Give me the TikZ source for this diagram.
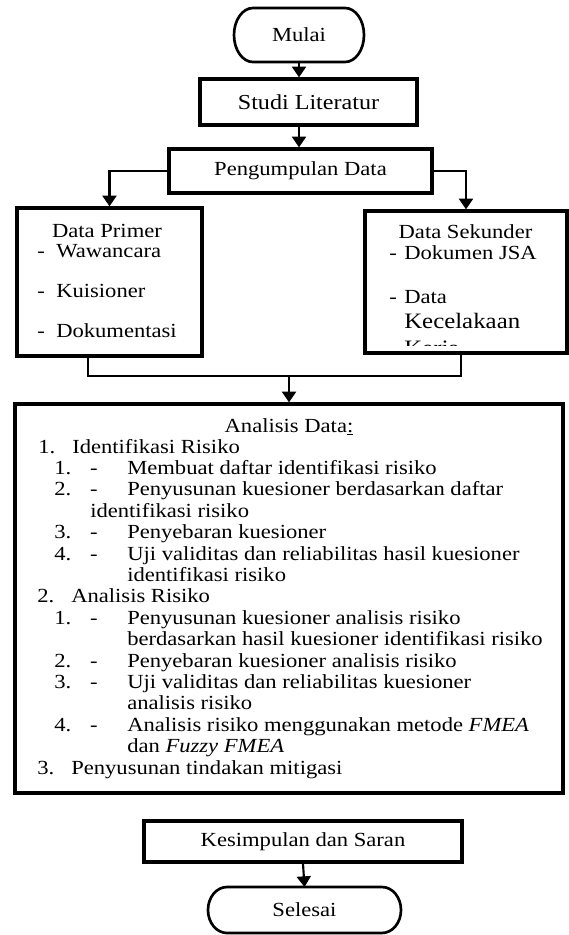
\documentclass[tikz,border=0pt]{standalone}
\usepackage{fontspec}
\setmainfont{Liberation Serif}[FakeStretch=1.13]
\usetikzlibrary{arrows.meta, positioning}

% list entries in the analysis box
\newcommand{\lvlone}[2]{\makebox[25.5pt][l]{#1}#2}
\newcommand{\lvltwo}[2]{\makebox[27pt][l]{#1}\makebox[27.75pt][l]{-}#2}
% terminator outline drawn round an empty node
\newcommand{\termshape}[2]{%
  \draw[termline] ([xshift=14.25pt]#1.north west) -- ([xshift=-14.25pt]#1.north east)
    arc[start angle=90, end angle=-90, x radius=14.25pt, y radius=#2]
    -- ([xshift=14.25pt]#1.south west)
    arc[start angle=270, end angle=90, x radius=14.25pt, y radius=#2] -- cycle;}

\begin{document}
\begin{tikzpicture}[
  x=0.75pt, y=-0.75pt,
  every node/.style={font=\fontsize{15pt}{16pt}\selectfont},
  termnode/.style={inner sep=0pt, outer sep=0pt, align=center},
  termline/.style={line width=2pt},
  procbox/.style={draw, line width=2.5pt, align=center, inner sep=0pt},
  txt/.style={inner sep=0pt, anchor=base west},
  conn/.style={line width=1.6pt},
  arr/.style={line width=1.6pt, -{Triangle[length=8pt, width=10.5pt]}}
]
  \useasboundingbox (0,0) rectangle (568,935);

  % main flow
  \node[termnode, minimum width=97.5pt, minimum height=40.5pt] (mulai) at (299,35) {Mulai};
  \termshape{mulai}{20.25pt}
  \node[procbox, font=\fontsize{16pt}{17pt}\selectfont, minimum width=162.75pt, minimum height=34.5pt] (studi) at (308.5,102) {Studi Literatur};
  \node[procbox, minimum width=197.25pt, minimum height=33pt] (peng) at (300.5,171) {Pengumpulan Data};
  \node[procbox, minimum width=138.75pt, minimum height=111pt] (primer) at (109.5,282) {};
  \node[procbox, minimum width=151.5pt, minimum height=106.5pt] (sekunder) at (466,282) {};
  \node[procbox, minimum width=411pt, minimum height=291.75pt] (analisis) at (289,598.5) {};
  \node[procbox, minimum width=238.5pt, minimum height=30.75pt] (kesimpulan) at (303,841.5) {Kesimpulan dan Saran};
  \node[termnode, minimum width=144.75pt, minimum height=34.5pt] (selesai) at (304.5,910) {Selesai};
  \termshape{selesai}{17.25pt}

  % data primer
  \node[txt, anchor=base] (primerT) at (107,237) {Data Primer};
  \node[txt] (p1) at (37,257) {\makebox[14.25pt][l]{-}Wawancara};
  \node[txt] (p2) at (37,297) {\makebox[14.25pt][l]{-}Kuisioner};
  \node[txt] (p3) at (37,337) {\makebox[14.25pt][l]{-}Dokumentasi};

  % data sekunder
  \node[txt, anchor=base] (sekunderT) at (465.5,238) {Data Sekunder};
  \node[txt] (s1) at (389,259) {\makebox[11.25pt][l]{-}Dokumen JSA};
  \node[txt] (s2) at (389,303) {\makebox[11.25pt][l]{-}Data};
  \node[txt, font=\fontsize{16.5pt}{18pt}\selectfont] (s3) at (404,328) {Kecelakaan};
  \begin{scope}
    \clip (365,211) rectangle (567,345);
    \node[txt, font=\fontsize{16.5pt}{18pt}\selectfont] (s4) at (404,355) {Kerja};
  \end{scope}

  % analisis data
  \node[txt, anchor=base] (a0) at (289,432) {Analisis Data\underline{:}};
  \node[txt] (a1) at (38,453) {\lvlone{1.}{Identifikasi Risiko}};
  \node[txt] (a2) at (54,474.4) {\lvltwo{1.}{Membuat daftar identifikasi risiko}};
  \node[txt] (a3) at (54,495.8) {\lvltwo{2.}{Penyusunan kuesioner berdasarkan daftar}};
  \node[txt] (a4) at (90,517.2) {identifikasi risiko};
  \node[txt] (a5) at (54,538.6) {\lvltwo{3.}{Penyebaran kuesioner}};
  \node[txt] (a6) at (54,560) {\lvltwo{4.}{Uji validitas dan reliabilitas hasil kuesioner}};
  \node[txt] (a7) at (127,581.4) {identifikasi risiko};
  \node[txt] (a8) at (37,602.8) {\lvlone{2.}{Analisis Risiko}};
  \node[txt] (a9) at (54,624.2) {\lvltwo{1.}{Penyusunan kuesioner analisis risiko}};
  \node[txt] (a10) at (127,645.6) {berdasarkan hasil kuesioner identifikasi risiko};
  \node[txt] (a11) at (54,667) {\lvltwo{2.}{Penyebaran kuesioner analisis risiko}};
  \node[txt] (a12) at (54,688.4) {\lvltwo{3.}{Uji validitas dan reliabilitas kuesioner}};
  \node[txt] (a13) at (127,709.8) {analisis risiko};
  \node[txt] (a14) at (54,731.2) {\lvltwo{4.}{Analisis risiko menggunakan metode \textit{FMEA}}};
  \node[txt] (a15) at (127,752.6) {dan \textit{Fuzzy FMEA}};
  \node[txt] (a16) at (37,774) {\lvlone{3.}{Penyusunan tindakan mitigasi}};

  % connectors
  \coordinate (joinL) at (88,376);
  \coordinate (joinR) at (461,376);
  \draw[arr] (mulai.south) -- (mulai.south |- studi.north);
  \draw[arr] (mulai.south |- studi.south) -- (mulai.south |- peng.north);
  \draw[arr] (peng.west) -| (primer.north);
  \draw[arr] (peng.east) -| (sekunder.north);
  \draw[conn] (joinL |- primer.south) -- (joinL) -- (joinR) -- (joinR |- sekunder.south);
  \draw[arr] (joinL -| analisis.north) -- (analisis.north);
  \draw[arr] (kesimpulan.south) -- (selesai.north);
\end{tikzpicture}
\end{document}
